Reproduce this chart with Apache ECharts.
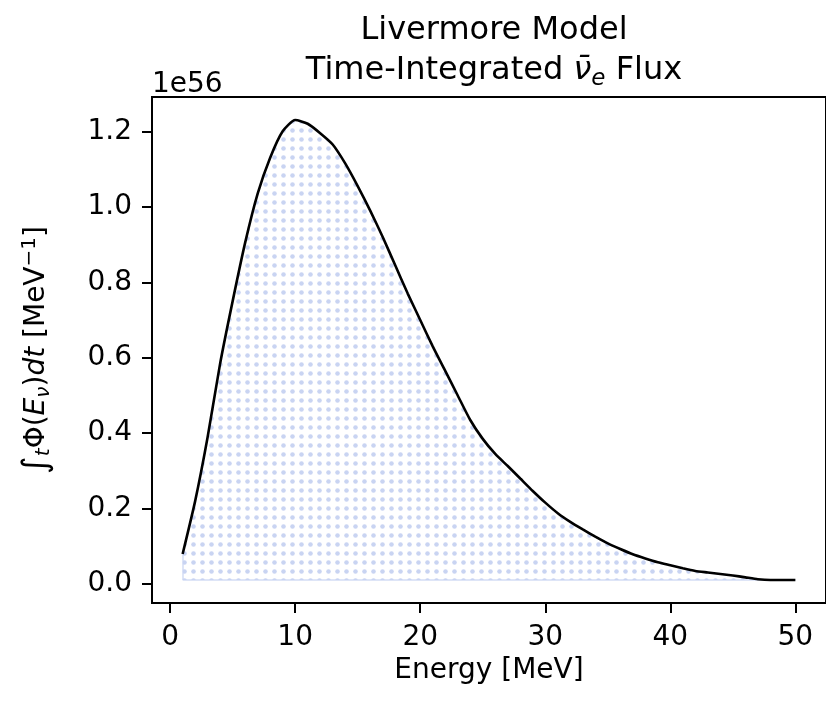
<!DOCTYPE html>
<html>
<head>
<meta charset="utf-8">
<script src="https://cdn.jsdelivr.net/npm/echarts@6/dist/echarts.min.js"></script>
<style>
  html, body { margin: 0; padding: 0; background: #fff; }
  #chartin { width: 826px; height: 701px; }
</style>
</head>
<body>
<div id="chartin"></div>
<script>
// values, flux in units of 1e56 per MeV
const energy = [1,2,3,4,5,6,7,8,9,10,11,12,13,14,15,16,17,18,19,20,21,22,23,24,25,
                26,27,28,29,30,31,32,33,34,35,36,37,38,39,40,41,42,43,44,45,46,47,48,49,50];
const flux = [0.08,0.22,0.39,0.585,0.75,0.905,1.035,1.13,1.20,1.23,1.22,1.195,1.165,1.115,1.055,
              0.99,0.92,0.845,0.77,0.70,0.63,0.565,0.5,0.435,0.385,0.345,0.313,0.28,0.247,0.216,
              0.188,0.165,0.145,0.126,0.108,0.093,0.079,0.068,0.058,0.050,0.042,0.035,0.031,
              0.027,0.023,0.018,0.013,0.011,0.011,0.011];
const xTicks = [0,10,20,30,40,50];
const yTicks = [0,0.2,0.4,0.6,0.8,1.0,1.2];

function dotPattern(){
    const c = document.createElement('canvas');
    c.width = 9; c.height = 9;
    const g = c.getContext('2d');
    g.fillStyle = '#c9d4f2';
    g.beginPath();
    g.arc(4.5, 4.5, 2.3, 0, Math.PI*2);
    g.fill();
    return c;
}

function chartload(){
    const myChart = echarts.init(document.getElementById('chartin'));
    const fnt = 'DejaVu Sans';
    const data = energy.map((e,i)=>[e, flux[i]]);
    const top = Math.max.apply(null, flux);
    const floor = Math.min.apply(null, flux);
    const pad = 0.05*(top-floor);
    const last = energy.length-1;

    const option = {
        animation: false,
        backgroundColor: '#fff',
        title: {
            text: 'Livermore Model\n{n|Time-Integrated }{it|ν̄}{sub|e}{n| Flux}',
            left: 489,
            textAlign: 'center',
            top: 6,
            textStyle: {
                fontFamily: fnt, fontSize: 32, fontWeight: 'normal', color: '#000', lineHeight: 40,
                rich: {
                    n: {fontFamily: fnt, fontSize: 32, color: '#000'},
                    it: {fontFamily: fnt, fontSize: 32, fontStyle: 'italic', color: '#000'},
                    sub: {fontFamily: fnt, fontSize: 23, fontStyle: 'italic', color: '#000', verticalAlign: 'bottom', padding: [14,0,0,0]}
                }
            }
        },
        graphic: [{
            type: 'text', left: 152, top: 71,
            style: {text: '1e56', font: '28px DejaVu Sans', fill: '#000'}
        }],
        grid: {
            left: 152, right: -2, top: 97, bottom: 98,
            show: true, borderColor: '#000', borderWidth: 2
        },
        xAxis: {
            type: 'value',
            min: energy[0] - 0.05*(energy[last]-energy[0]),
            max: energy[last] + 0.05*(energy[last]-energy[0]),
            name: 'Energy [MeV]',
            nameLocation: 'middle',
            nameGap: 44,
            nameTextStyle: {fontFamily: fnt, fontSize: 28, color: '#000'},
            axisLine: {show: true, onZero: false, lineStyle: {color: '#000', width: 2}},
            splitLine: {show: false},
            axisTick: {show: true, inside: false, length: 10, customValues: xTicks, lineStyle: {color: '#000', width: 2}},
            axisLabel: {customValues: xTicks, margin: 21, fontFamily: fnt, fontSize: 28, color: '#000'}
        },
        yAxis: {
            type: 'value',
            min: floor - pad, max: top + pad,
            name: '{i|∫}{s|t}Φ({it|E}{s|ν}){it|dt} [MeV{sup|−1}]',
            nameLocation: 'middle',
            nameRotate: 90,
            nameGap: 98,
            nameTextStyle: {
                fontFamily: fnt, fontSize: 28, color: '#000',
                rich: {
                    i: {fontFamily: fnt, fontSize: 34, color: '#000'},
                    it: {fontFamily: fnt, fontSize: 28, fontStyle: 'italic', color: '#000'},
                    s: {fontFamily: fnt, fontSize: 20, fontStyle: 'italic', color: '#000', verticalAlign: 'bottom', padding: [14,0,0,0]},
                    sup: {fontFamily: fnt, fontSize: 20, color: '#000', verticalAlign: 'top', padding: [0,0,12,0]}
                }
            },
            axisLine: {show: true, onZero: false, lineStyle: {color: '#000', width: 2}},
            splitLine: {show: false},
            axisTick: {show: true, inside: false, length: 10, customValues: yTicks, lineStyle: {color: '#000', width: 2}},
            axisLabel: {customValues: yTicks, margin: 20, fontFamily: fnt, fontSize: 28, color: '#000',
                formatter: v => v.toFixed(1)}
        },
        series: [{
            type: 'line',
            data: data,
            showSymbol: false,
            smooth: 0.2,
            z: 3,
            lineStyle: {color: '#000', width: 2.6},
            areaStyle: {
                origin: floor,
                color: {image: dotPattern(), repeat: 'repeat'},
                opacity: 1
            },
            markLine: {
                silent: true,
                symbol: 'none',
                z: 1,
                label: {show: false},
                lineStyle: {color: '#d3dcf4', width: 1.5, type: 'solid'},
                data: [
                    [{coord: [energy[0], flux[0]]}, {coord: [energy[0], floor]}],
                    [{coord: [energy[0], floor]}, {coord: [energy[last], floor]}]
                ]
            }
        }]
    };
    myChart.setOption(option);
}

chartload();
</script>
</body>
</html>
